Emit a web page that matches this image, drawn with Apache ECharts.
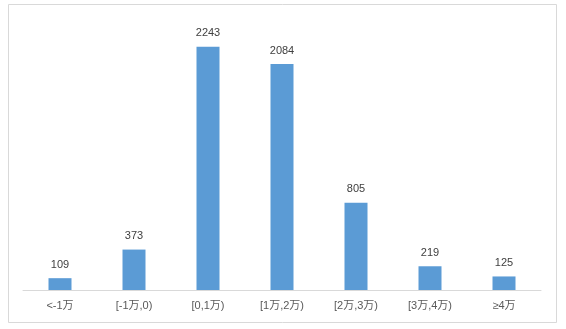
<!DOCTYPE html>
<html>
<head>
<meta charset="utf-8">
<script src="https://cdn.jsdelivr.net/npm/echarts@6/dist/echarts.min.js"></script>
<style>html,body{margin:0;padding:0;background:#fff;}#c{width:566px;height:329px;}</style>
</head>
<body>
<div id="c"></div>
<script>
const categories = ["<-1万", "[-1万,0)", "[0,1万)", "[1万,2万)", "[2万,3万)", "[3万,4万)", "≥4万"];
const values = [109, 373, 2243, 2084, 805, 219, 125];

const chart = echarts.init(document.getElementById('c'), null, {renderer: 'canvas'});
chart.setOption({
  animation: false,
  backgroundColor: '#ffffff',
  graphic: [{
    type: 'rect',
    shape: {x: 8.5, y: 4.5, width: 548, height: 318},
    style: {fill: 'none', stroke: '#d9d9d9', lineWidth: 1},
    silent: true
  }],
  grid: {left: 23, right: 25, top: 19, bottom: 39, containLabel: false},
  xAxis: {
    type: 'category',
    data: categories,
    axisLine: {lineStyle: {color: '#d9d9d9', width: 1}},
    axisTick: {show: false},
    axisLabel: {color: '#595959', fontSize: 11, margin: 10, fontFamily: '"Liberation Sans", "Noto Sans CJK SC", sans-serif'}
  },
  yAxis: {
    type: 'value',
    min: 0, max: 2500,
    show: false,
    splitLine: {show: false}
  },
  series: [{
    type: 'bar',
    data: values,
    barWidth: 23,
    itemStyle: {color: '#5b9bd5'},
    label: {
      show: true, position: 'top', distance: 8,
      color: '#404040', fontSize: 11,
      fontFamily: '"Liberation Sans", sans-serif'
    }
  }]
});
</script>
</body>
</html>
